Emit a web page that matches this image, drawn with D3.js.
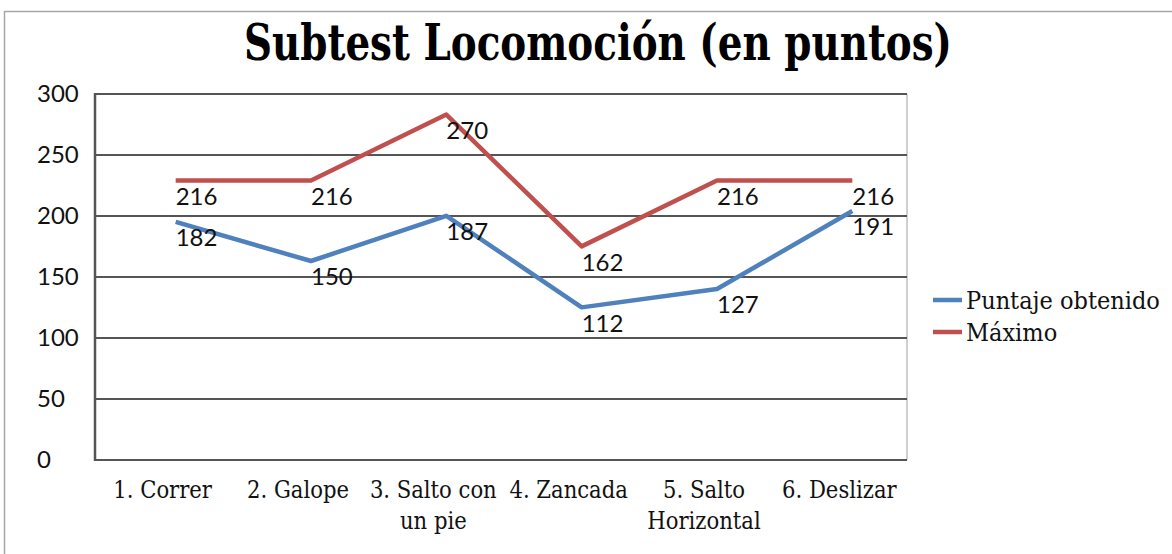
<!DOCTYPE html>
<html>
<head>
<meta charset="utf-8">
<script src="https://cdn.jsdelivr.net/npm/d3@7"></script>
<style>
  body { margin: 0; background: #fff; }
  svg { display: block; }
  .serif { font-family: "DejaVu Serif Condensed", "DejaVu Serif", serif; font-stretch: condensed; }
  .sans { font-family: Lato, "Open Sans", sans-serif; }
</style>
</head>
<body>
<svg id="chart" width="1172" height="554"></svg>
<script>
// chart data
const categories = ['1. Correr', '2. Galope', '3. Salto con un pie', '4. Zancada', '5. Salto Horizontal', '6. Deslizar'];
const categoryLines = [['1. Correr'], ['2. Galope'], ['3. Salto con', 'un pie'], ['4. Zancada'], ['5. Salto', 'Horizontal'], ['6. Deslizar']];
const puntaje = [182, 150, 187, 112, 127, 191];
const maximo = [216, 216, 270, 162, 216, 216];
const yTicks = [0, 50, 100, 150, 200, 250, 300];
const seriesNames = ['Puntaje obtenido', 'Máximo'];
const seriesColors = ['#4f81bd', '#c0504d'];

const svg = d3.select('#chart');
const plot = { left: 95, top: 94, right: 907, bottom: 460 };

// outer chart border
svg.append('path')
    .attr('d', 'M4.5,560 V11.5 H1180')
    .attr('fill', 'none')
    .attr('stroke', '#a6a6a6')
    .attr('stroke-width', 1.5);

// title
svg.append('text')
    .attr('class', 'serif')
    .attr('x', 598)
    .attr('y', 60)
    .attr('text-anchor', 'middle')
    .attr('font-size', 50)
    .attr('font-weight', 'bold')
    .attr('textLength', 708)
    .attr('lengthAdjust', 'spacingAndGlyphs')
    .attr('fill', '#000')
    .text('Subtest Locomoción (en puntos)');

const x = d3.scaleBand()
    .domain(categories)
    .range([plot.left, plot.right])
    .padding(0);

const y = d3.scaleLinear()
    .domain([0, 300])
    .range([plot.bottom, plot.top]);

const cx = d => x(d) + x.bandwidth() / 2;

// right border of plot area
svg.append('line')
    .attr('x1', plot.right).attr('x2', plot.right)
    .attr('y1', plot.top).attr('y2', plot.bottom)
    .attr('stroke', '#d0d0d0')
    .attr('stroke-width', 2);

// gridlines
svg.append('g')
    .selectAll('line')
    .data(yTicks)
    .enter().append('line')
    .attr('x1', plot.left)
    .attr('x2', plot.right)
    .attr('y1', d => y(d))
    .attr('y2', d => y(d))
    .attr('stroke', '#555')
    .attr('stroke-width', 2);

// left axis line
svg.append('line')
    .attr('x1', plot.left).attr('x2', plot.left)
    .attr('y1', plot.top - 1).attr('y2', plot.bottom + 1)
    .attr('stroke', '#555')
    .attr('stroke-width', 2.5);

// y tick labels (left aligned, as in the picture)
svg.append('g')
    .selectAll('text')
    .data(yTicks)
    .enter().append('text')
    .attr('class', 'sans')
    .attr('x', 37)
    .attr('y', d => y(d))
    .attr('dy', '0.35em')
    .attr('font-size', 24)
    .attr('fill', '#111')
    .text(d => d);

// category labels
const catG = svg.append('g')
    .selectAll('text')
    .data(categories)
    .enter().append('text')
    .attr('class', 'serif')
    .attr('x', d => cx(d))
    .attr('y', 498)
    .attr('text-anchor', 'middle')
    .attr('font-size', 23.5)
    .attr('fill', '#111');

catG.each(function (d, i) {
    d3.select(this).selectAll('tspan')
        .data(categoryLines[i])
        .enter().append('tspan')
        .attr('x', cx(d))
        .attr('dy', (t, j) => j === 0 ? 0 : 31)
        .text(t => t);
});

// lines (the picture shows them displaced up-right from their labels)
const line = d3.line()
    .x((d, i) => cx(categories[i]))
    .y(d => y(d));

const lineG = svg.append('g').attr('transform', 'translate(13,-16)');
[puntaje, maximo].forEach((s, k) => {
    lineG.append('path')
        .datum(s)
        .attr('d', line)
        .attr('fill', 'none')
        .attr('stroke', seriesColors[k])
        .attr('stroke-width', 4.5)
        .attr('stroke-linejoin', 'round');
});

// data labels, to the right of each point
[puntaje, maximo].forEach(s => {
    svg.append('g')
        .selectAll('text')
        .data(s)
        .enter().append('text')
        .attr('class', 'sans')
        .attr('x', (d, i) => cx(categories[i]) + 13)
        .attr('y', d => y(d))
        .attr('dy', '0.35em')
        .attr('font-size', 24)
        .attr('fill', '#111')
        .text(d => d);
});

// legend
const legend = svg.append('g')
    .selectAll('g')
    .data(seriesNames)
    .enter().append('g')
    .attr('transform', (d, i) => `translate(933,${300 + i * 32})`);

legend.append('line')
    .attr('x1', 0).attr('x2', 29)
    .attr('stroke', (d, i) => seriesColors[i])
    .attr('stroke-width', 4.5);

legend.append('text')
    .attr('class', 'serif')
    .attr('x', 33)
    .attr('dy', '0.35em')
    .attr('font-size', 25)
    .attr('fill', '#111')
    .text(d => d);
</script>
</body>
</html>
